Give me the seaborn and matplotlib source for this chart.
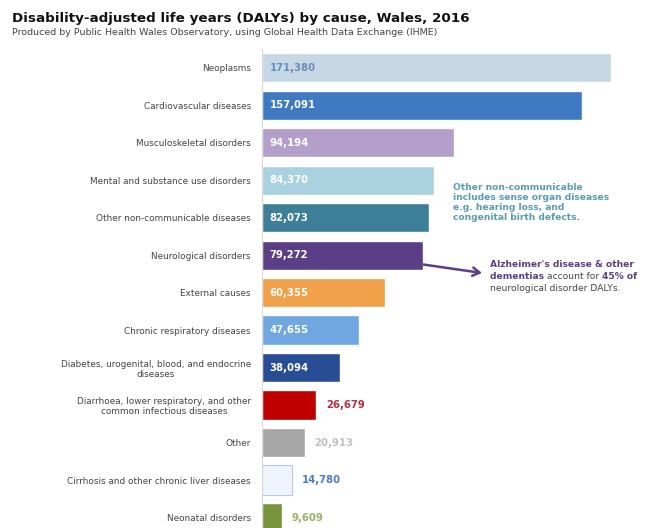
import matplotlib
matplotlib.use("Agg")
import matplotlib.pyplot as plt
import seaborn as sns
import pandas as pd

causes = [
    "Neoplasms",
    "Cardiovascular diseases",
    "Musculoskeletal disorders",
    "Mental and substance use disorders",
    "Other non-communicable diseases",
    "Neurological disorders",
    "External causes",
    "Chronic respiratory diseases",
    "Diabetes, urogenital, blood, and endocrine\ndiseases",
    "Diarrhoea, lower respiratory, and other\ncommon infectious diseases",
    "Other",
    "Cirrhosis and other chronic liver diseases",
    "Neonatal disorders",
]
dalys = [171380, 157091, 94194, 84370, 82073, 79272, 60355, 47655, 38094,
         26679, 20913, 14780, 9609]
bar_colors = ["#c6d7e6", "#3f79c2", "#b39fca", "#a9d1e0", "#3d7f98", "#5a3f87",
              "#f0a149", "#70a7e0", "#284d95", "#c00000", "#a6a6a6", "#f0f4fc",
              "#77933c"]
# labels drawn inside the bar (True) or just past its end (False)
label_inside = [True] * 9 + [False] * 4
label_colors = ["#6d8db5", "white", "white", "white", "white", "white", "white",
                "white", "white", "#b5303c", "#c0c0c0", "#4f7bbf", "#9bb060"]

df = pd.DataFrame({"cause": causes, "dalys": dalys})

sns.set_style("white")
plt.rcParams["font.family"] = ["DejaVu Sans"]

fig = plt.figure(figsize=(6.7, 5.28), dpi=100)
ax = fig.add_axes([262 / 670, 0.0, 1 - 262 / 670, 1 - 49 / 528])

sns.barplot(data=df, y="cause", x="dalys", hue="cause", palette=bar_colors,
            legend=False, width=0.78, saturation=1, ax=ax)

# cirrhosis bar has a thin outline
ax.patches[11].set_edgecolor("#b7c6e6")
ax.patches[11].set_linewidth(0.8)

xmax = 171380 * 408 / 349
ax.set_xlim(0, xmax)
ax.set_ylim(12.28, -0.5)
ax.set_xlabel("")
ax.set_ylabel("")
ax.set_xticks([])
ax.tick_params(axis="y", labelsize=6.4, labelcolor="#444444", length=2,
               color="#888888", pad=6)
for lbl in ax.get_yticklabels():
    lbl.set_multialignment("center")
for side in ["top", "right", "bottom"]:
    ax.spines[side].set_visible(False)
ax.spines["left"].set_color("#d8d8d8")
ax.spines["left"].set_linewidth(0.8)

pad = xmax * 0.018
for i, (v, inside, c) in enumerate(zip(dalys, label_inside, label_colors)):
    x = pad if inside else v + pad * 1.3
    ax.text(x, i, f"{v:,}", va="center", ha="left", fontsize=7.3,
            fontweight="bold", color=c)

# annotations
fig.text(453 / 670, 1 - 183 / 528,
         "Other non-communicable\nincludes sense organ diseases\n"
         "e.g. hearing loss, and\ncongenital birth defects.",
         fontsize=6.6, fontweight="bold", color="#5b9bb2", va="top",
         linespacing=1.15)

# arrow from the neurological bar towards the note
ax.annotate("", xy=(482 / 670, 1 - 273 / 528), xycoords="figure fraction",
            xytext=(79272, 5.25), textcoords="data",
            arrowprops=dict(arrowstyle="->,head_length=0.5,head_width=0.3",
                            color="#5a3f87", lw=1.8, shrinkA=0, shrinkB=0))

fig.text(490 / 670, 1 - 260 / 528, "Alzheimer's disease & other",
         fontsize=6.6, fontweight="bold", color="#5a3f87", va="top")
y2 = 1 - 272 / 528
t1 = fig.text(490 / 670, y2, "dementias ", fontsize=6.6, fontweight="bold",
              color="#5a3f87", va="top")
fig.canvas.draw()
r = fig.canvas.get_renderer()
bb = t1.get_window_extent(r)
t2 = fig.text(bb.x1 / 670, y2, "account for ", fontsize=6.6, color="#444444",
              va="top")
bb = t2.get_window_extent(r)
fig.text(bb.x1 / 670, y2, "45% of", fontsize=6.6, fontweight="bold",
         color="#5a3f87", va="top")
fig.text(490 / 670, 1 - 284 / 528, "neurological disorder DALYs.",
         fontsize=6.6, color="#444444", va="top")

fig.text(12 / 670, 1 - 12 / 528,
         "Disability-adjusted life years (DALYs) by cause, Wales, 2016",
         fontsize=9.7, fontweight="bold", color="#111111", va="top")
fig.text(12 / 670, 1 - 28 / 528,
         "Produced by Public Health Wales Observatory, using Global Health Data Exchange (IHME)",
         fontsize=6.8, color="#444444", va="top")

fig.savefig("out.png", dpi=100)
